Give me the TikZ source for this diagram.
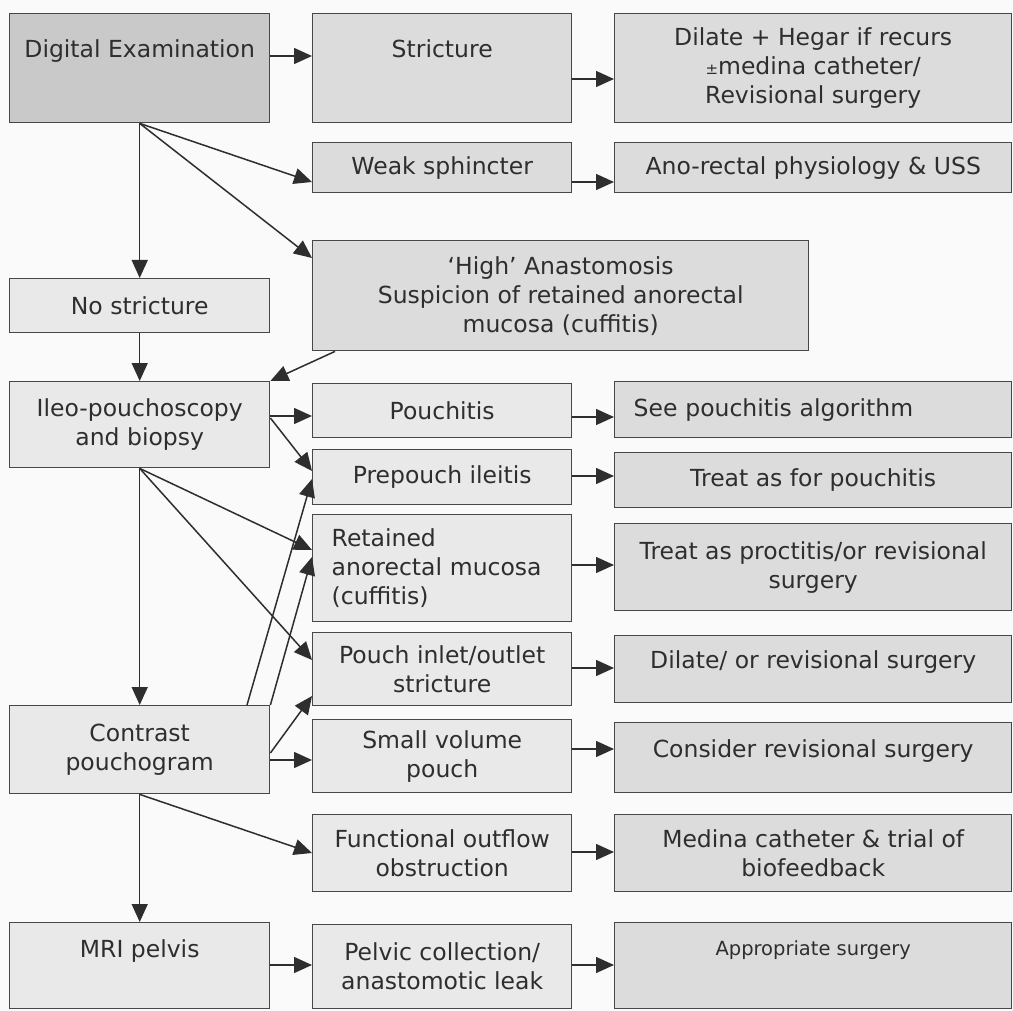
\documentclass[tikz,border=0pt]{standalone}
\usepackage{fontspec}
\setmainfont{DejaVu Sans}
\usepackage{xcolor}
\usetikzlibrary{arrows.meta, positioning, calc}
\definecolor{boxdark}{HTML}{C9C9CA}
\definecolor{boxmid}{HTML}{DCDCDD}
\definecolor{boxlight}{HTML}{E9E9EA}
\definecolor{edge}{HTML}{474747}
\definecolor{ink}{HTML}{2E2E2E}
\newcommand{\txt}{\fontsize{23.5}{29}\selectfont}

\begin{document}
\begin{tikzpicture}[x=1pt, y=-1pt,
  box/.style={draw=edge, line width=1.4pt, anchor=north west, inner sep=0pt,
    align=center, text=ink, font=\txt},
  arr/.style={draw=ink, line width=1.5pt, -{Triangle[length=18pt,width=16pt]}}]
% Page
\fill[black!2] (0,0) rectangle (1013,1011);
\useasboundingbox (0,0) rectangle (1013,1011);
% Left column
\node[box, fill=boxdark, minimum width=260pt, text height=44pt, text depth=65pt] (dig) at (9,13) {Digital Examination};
\node[box, fill=boxlight, minimum width=260pt, minimum height=54pt] (nos) at (9,278) {No stricture};
\node[box, fill=boxlight, minimum width=260pt, minimum height=86pt] (ileo) at (9,381) {Ileo-pouchoscopy\\and biopsy};
\node[box, fill=boxlight, minimum width=260pt, minimum height=88pt] (con) at (9,705) {Contrast\\pouchogram};
\node[box, fill=boxlight, minimum width=260pt, text height=35pt, text depth=51pt] (mri) at (9,922) {MRI pelvis};
% Middle column
\node[box, fill=boxmid, minimum width=259pt, text height=44pt, text depth=65pt] (str) at (312,13) {Stricture};
\node[box, fill=boxmid, minimum width=259pt, minimum height=50pt] (weak) at (312,142) {Weak sphincter};
\node[box, fill=boxmid, minimum width=496pt, minimum height=110pt] (high) at (312,240) {‘High’ Anastomosis\\Suspicion of retained anorectal\\mucosa (cuffitis)};
\node[box, fill=boxlight, minimum width=259pt, minimum height=54pt] (pch) at (312,383) {Pouchitis};
\node[box, fill=boxlight, minimum width=259pt, minimum height=55pt] (pre) at (312,449) {Prepouch ileitis};
\node[box, fill=boxlight, minimum width=259pt, minimum height=107pt, text width=221pt, align=left] (ret) at (312,514) {Retained\\anorectal mucosa\\(cuffitis)};
\node[box, fill=boxlight, minimum width=259pt, minimum height=73pt] (inl) at (312,632) {Pouch inlet/outlet\\stricture};
\node[box, fill=boxlight, minimum width=259pt, minimum height=73pt] (small) at (312,719) {Small volume\\pouch};
\node[box, fill=boxlight, minimum width=259pt, minimum height=77pt] (fun) at (312,814) {Functional outflow\\obstruction};
\node[box, fill=boxlight, minimum width=259pt, minimum height=84pt] (pel) at (312,924) {Pelvic collection/\\anastomotic leak};
% Right column
\node[box, fill=boxmid, minimum width=397pt, minimum height=109pt] (dil) at (614,13) {Dilate + Hegar if recurs\\{\fontsize{15}{15}\selectfont ±}medina catheter/\\Revisional surgery};
\node[box, fill=boxmid, minimum width=397pt, minimum height=50pt] (ano) at (614,142) {Ano-rectal physiology \& USS};
\node[box, fill=boxmid, minimum width=397pt, minimum height=56pt, text width=359pt, align=left] (see) at (614,381) {See pouchitis algorithm};
\node[box, fill=boxmid, minimum width=397pt, minimum height=55pt] (tfp) at (614,452) {Treat as for pouchitis};
\node[box, fill=boxmid, minimum width=397pt, minimum height=87pt] (tpr) at (614,523) {Treat as proctitis/or revisional\\surgery};
\node[box, fill=boxmid, minimum width=397pt, text height=33pt, text depth=34pt] (dilr) at (614,635) {Dilate/ or revisional surgery};
\node[box, fill=boxmid, minimum width=397pt, text height=35pt, text depth=35pt] (cons) at (614,722) {Consider revisional surgery};
\node[box, fill=boxmid, minimum width=397pt, minimum height=77pt] (med) at (614,814) {Medina catheter \& trial of\\biofeedback};
\node[box, fill=boxmid, minimum width=397pt, text height=33pt, text depth=53pt, font=\fontsize{19.5}{23}\selectfont] (app) at (614,922) {Appropriate surgery};
% From the digital examination
\draw[arr] (dig.east |- 0,56) -- (str.west |- 0,56);
\draw[arr] (dig.south) -- (weak.west |- 0,182);
\draw[arr] (dig.south) -- (high.west |- 0,258);
\draw[arr] (dig.south) -- (nos.north);
\draw[arr] (str.east |- 0,79) -- (dil.west |- 0,79);
\draw[arr] (weak.east |- 0,182) -- (ano.west |- 0,182);
\draw[arr] (nos.south) -- (ileo.north);
\draw[arr] ($(high.south west)+(23,0)$) -- (ileo.north east);
% From the pouchoscopy
\draw[arr] (ileo.east |- 0,416) -- (pch.west |- 0,416);
\draw[arr] (ileo.east |- 0,418) -- (pre.west |- 0,471);
\draw[arr] (ileo.south) -- (ret.west |- 0,550);
\draw[arr] (ileo.south) -- (inl.west |- 0,660);
\draw[arr] (ileo.south) -- (con.north);
% From the pouchogram
\draw[arr] ($(con.north west)+(238,0)$) -- (pre.west |- 0,479);
\draw[arr] (con.north east) -- (ret.west |- 0,557);
\draw[arr] (con.east |- 0,753) -- (inl.west |- 0,696);
\draw[arr] (con.east |- 0,760) -- (small.west |- 0,760);
\draw[arr] (con.south) -- (fun.west |- 0,853);
\draw[arr] (con.south) -- (mri.north);
\draw[arr] (mri.east |- 0,965) -- (pel.west |- 0,965);
% Middle to right
\draw[arr] (pch.east |- 0,417) -- (see.west |- 0,417);
\draw[arr] (pre.east |- 0,476) -- (tfp.west |- 0,476);
\draw[arr] (ret.east |- 0,565) -- (tpr.west |- 0,565);
\draw[arr] (inl.east |- 0,668) -- (dilr.west |- 0,668);
\draw[arr] (small.east |- 0,749) -- (cons.west |- 0,749);
\draw[arr] (fun.east |- 0,852) -- (med.west |- 0,852);
\draw[arr] (pel.east |- 0,965) -- (app.west |- 0,965);
\end{tikzpicture}
\end{document}
